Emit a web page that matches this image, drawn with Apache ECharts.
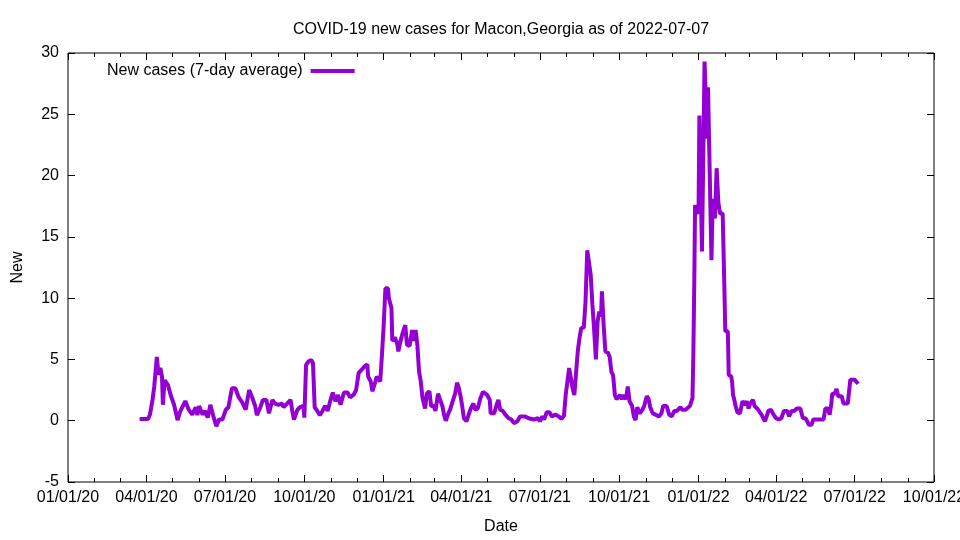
<!DOCTYPE html>
<html><head><meta charset="utf-8">
<script src="https://cdn.jsdelivr.net/npm/echarts@6/dist/echarts.min.js"></script>
<style>html,body{margin:0;padding:0;background:#fff}#c{width:960px;height:540px}</style>
</head><body><div id="c"></div>
<script>
const titleText = 'COVID-19 new cases for Macon,Georgia as of 2022-07-07';
const seriesName = 'New cases (7-day average)';
const xAxisName = 'Date';
const yAxisName = 'New';
const startDate = '2020-01-01';
// days since startDate
const dayIndex = [83,93,95,98,100,103,105,107,109,110,112,116,119,123,127,130,136,140,144,148,150,152,156,159,162,165,167,169,172,175,179,183,186,190,194,198,202,206,210,213,217,219,223,226,230,233,237,240,244,248,250,254,258,260,262,266,269,273,274,276,279,282,284,286,289,292,295,298,301,304,307,310,313,316,320,324,327,331,334,337,341,344,347,348,351,353,356,358,362,364,366,368,371,372,375,376,379,382,383,385,388,391,393,396,399,401,403,405,407,409,411,414,416,419,421,424,426,429,432,434,436,438,441,443,446,449,451,453,455,457,459,462,465,467,470,472,475,478,481,483,486,489,490,494,497,499,501,504,507,511,514,517,521,524,530,534,540,545,547,550,552,555,558,561,565,569,572,575,577,579,581,583,585,587,589,591,593,595,598,600,602,604,606,608,610,612,614,616,618,619,621,623,626,628,630,632,634,636,640,642,644,647,649,651,654,656,658,660,662,663,666,668,671,673,675,678,681,685,688,690,694,697,700,703,706,710,712,716,718,721,724,725,726,727,729,731,732,734,735,737,738,740,741,742,743,746,747,748,750,752,754,756,759,761,762,765,766,769,770,771,772,774,776,779,782,785,787,789,791,794,796,799,801,804,806,808,810,812,815,818,821,824,827,830,834,836,839,842,845,849,852,855,857,859,862,864,868,876,878,881,883,885,886,889,891,893,897,899,904,907,912,915,916];
const newCases = [0.15,0.15,0.5,1.7,2.8,5.2,3.75,4.3,3.6,1.3,3.3,2.9,2.1,1.3,0.05,0.75,1.6,0.9,0.5,1.1,0.45,1.2,0.5,0.8,0.25,1.3,1.2,0.25,-0.45,0.1,0.1,0.9,1.1,2.65,2.65,1.9,1.5,0.9,2.5,2.0,1.2,0.45,1.1,1.7,1.7,0.6,1.7,1.4,1.3,1.4,1.1,1.4,1.7,0.8,0.1,0.9,1.1,1.2,0.25,4.55,4.85,4.95,4.7,1.1,0.8,0.45,0.8,1.2,0.8,1.6,2.3,1.6,2.1,1.3,2.3,2.3,1.9,2.1,2.5,3.9,4.2,4.45,4.6,3.6,3.2,2.4,3.1,3.6,3.2,5.4,7.8,10.8,10.8,10.0,9.2,6.5,6.8,6.2,5.65,6.35,7.15,7.8,6.2,6.1,7.4,6.5,7.4,6.2,4.0,3.2,1.85,1.0,2.2,2.4,1.2,1.2,0.8,2.2,1.6,1.2,0.5,0.0,0.6,0.9,1.6,2.25,3.1,2.7,2.05,1.2,0.2,-0.05,0.6,1.0,1.4,0.9,1.0,1.8,2.35,2.5,2.1,1.7,0.6,0.6,1.3,1.7,0.9,0.8,0.5,0.2,0.1,-0.2,-0.05,0.35,0.35,0.2,0.1,0.2,-0.05,0.35,0.1,0.7,0.7,0.35,0.5,0.35,0.15,0.4,2.1,3.2,4.3,4.3,2.65,2.1,2.0,5.65,6.75,7.55,7.6,9.7,13.9,13.9,11.9,9.45,7.4,5.0,8.1,8.9,8.5,10.55,7.8,5.65,5.55,5.2,4.0,3.7,2.1,1.75,2.1,1.75,2.1,1.75,2.8,1.6,1.2,0.35,0.05,1.1,1.1,0.6,0.9,1.2,2.0,1.8,1.1,0.6,0.5,0.35,0.6,1.2,1.2,0.5,0.35,0.8,0.8,1.1,0.9,0.9,0.9,1.2,1.85,5.4,10.8,17.6,17.1,16.9,24.9,24.8,13.8,13.8,29.3,29.3,23.0,27.2,27.2,13.1,16.5,18.1,16.5,20.6,17.8,16.9,16.9,10.8,7.3,7.3,3.75,3.6,3.1,2.1,1.85,1.2,0.7,0.6,1.6,1.3,1.6,1.0,1.4,1.7,1.2,1.0,0.8,0.5,0.6,-0.05,0.35,0.8,0.9,0.5,0.2,0.1,0.2,0.8,0.8,0.35,0.8,0.8,1.0,1.0,0.2,0.2,-0.05,-0.33,-0.33,0.1,0.1,0.1,1.0,1.0,0.5,1.4,2.2,2.2,2.6,2.0,2.0,1.4,1.4,3.35,3.35,3.1,3.0];
const xTickLabels = ['01/01/20','04/01/20','07/01/20','10/01/20','01/01/21','04/01/21','07/01/21','10/01/21','01/01/22','04/01/22','07/01/22','10/01/22'];
const yMin = -5, yMax = 30, yStep = 5;

const FONT = 'Liberation Sans, Arial, sans-serif';
const FS = 16;
function parseMDY(s){const p=s.split('/').map(Number);return Date.UTC(2000+p[2],p[0]-1,p[1]);}
const t0 = Date.parse(startDate + 'T00:00:00Z');
const data = dayIndex.map((d,i)=>[t0 + d*86400000, newCases[i]]);
const majorTicks = xTickLabels.map(parseMDY);
const xMin = majorTicks[0], xMax = majorTicks[majorTicks.length-1];
const minorTicks = [];
for (let y=2020; y<=2022; y++) for (let m=0; m<12; m++) { const t=Date.UTC(y,m,1); if (t>=xMin && t<=xMax) minorTicks.push(t); }
const labelMap = {}; majorTicks.forEach((t,i)=>labelMap[t]=xTickLabels[i]);

function xAx(pos, ticks, len, labels){
  const a = {type:'value', min:xMin, max:xMax, position:pos, splitLine:{show:false},
    axisLine:{show:false, onZero:false},
    axisTick:{show:true, inside:true, length:len, customValues:ticks, lineStyle:{color:'#000',width:1}},
    axisLabel:{show:false}};
  if (labels) {
    a.axisLabel = {show:true, customValues:majorTicks, formatter:v=>labelMap[v]||'', color:'#000', fontSize:FS, fontFamily:FONT, margin:8};
    a.name = xAxisName; a.nameLocation='middle'; a.nameGap=37;
    a.nameTextStyle = {color:'#000', fontSize:FS, fontFamily:FONT};
  }
  return a;
}
function yAx(pos, labels){
  const a = {type:'value', min:yMin, max:yMax, interval:yStep, position:pos, splitLine:{show:false},
    axisLine:{show:false, onZero:false},
    axisTick:{show:true, inside:true, length:7, lineStyle:{color:'#000',width:1}},
    axisLabel:{show:!!labels, color:'#000', fontSize:FS, fontFamily:FONT, margin:9}};
  if (labels) { a.name=yAxisName; a.nameLocation='middle'; a.nameGap=42; a.nameRotate=90;
    a.nameTextStyle={color:'#000', fontSize:FS, fontFamily:FONT}; }
  return a;
}

const chart = echarts.init(document.getElementById('c'), null, {renderer:'canvas'});
chart.setOption({
  animation:false,
  backgroundColor:'#fff',
  title:{text:titleText, left:496, top:17, textAlign:'center',
    textStyle:{fontSize:FS, fontWeight:'normal', color:'#000', fontFamily:FONT}},
  legend:{data:[seriesName], left:107, top:63, padding:0, align:'right', icon:'rect', itemWidth:44, itemHeight:4,
    textStyle:{fontSize:FS, color:'#000', fontFamily:FONT, padding:[0,3,0,0]}},
  grid:{left:68, right:26, top:53, bottom:58, show:true, borderColor:'#000', borderWidth:1, backgroundColor:'transparent', outerBoundsMode:'none', containLabel:false},
  xAxis:[xAx('bottom',majorTicks,7,true), xAx('bottom',minorTicks,4,false), xAx('top',majorTicks,7,false), xAx('top',minorTicks,4,false)],
  yAxis:[yAx('left',true), yAx('right',false)],
  series:[{name:seriesName, type:'line', data:data, xAxisIndex:0, yAxisIndex:0, showSymbol:false, symbol:'none',
    color:'#9400D3', lineStyle:{width:4, color:'#9400D3'}}]
});
</script></body></html>
